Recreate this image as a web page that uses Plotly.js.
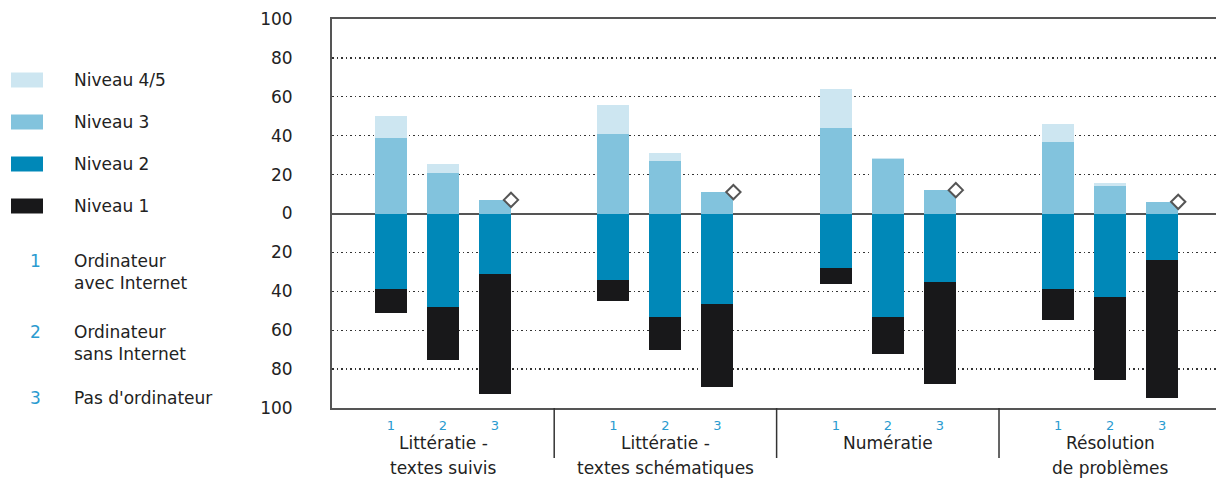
<!DOCTYPE html>
<html>
<head>
<meta charset="utf-8">
<script src="https://cdn.plot.ly/plotly-3.0.1.min.js"></script>
<style>html,body{margin:0;padding:0;background:#fff;}#chart{width:1216px;height:486px;}</style>
</head>
<body>
<div id="chart"></div>
<script>
// ---- Data ----
const groups = ['Littératie -<br>textes suivis', 'Littératie -<br>textes schématiques', 'Numératie', 'Résolution<br>de problèmes'];
const subLabels = ['1', '2', '3'];
const niveau45 = [11, 4.5, 0, 15, 4, 0, 20, 0.5, 0, 9, 1.5, 0];
const niveau3  = [39, 21, 7, 41, 27, 11, 44, 28, 12, 37, 14, 6];
const niveau2  = [39, 48, 31, 34, 53, 46.5, 28, 53, 35, 39, 43, 24];
const niveau1  = [12, 27.5, 62, 11, 17, 42.5, 8.5, 19, 52.5, 16, 42.5, 71];
const legendLevels = ['Niveau 4/5', 'Niveau 3', 'Niveau 2', 'Niveau 1'];
const legendGroups = [['1', 'Ordinateur', 'avec Internet'], ['2', 'Ordinateur', 'sans Internet'], ['3', "Pas d'ordinateur"]];
const yTicks = [-100, -80, -60, -40, -20, 0, 20, 40, 60, 80, 100];

// ---- Styling / geometry ----
const C45 = '#cde6f1', C3 = '#82c3dd', C2 = '#0088b8', C1 = '#18181a';
const levelColors = [C45, C3, C2, C1];
const BLUE = '#2a9bd0', TXT = '#222222', LINE = '#555555';
const FONT = 'DejaVu Sans, Liberation Sans, sans-serif';
const W = 1216, H = 486, L = 332, R = 0, T = 19, B = 78;
const pw = W - L - R, ph = H - T - B;
const K = 4.277;            // group spacing in bar-slot units
const unitPx = 52;          // bar slot width in px
const xMin = -(443 - L) / unitPx;
const xMax = xMin + pw / unitPx;
const px2x = p => (p - L) / pw;
const py2y = p => (H - B - p) / ph;

const n = niveau3.length;
const xs = [];
for (let i = 0; i < n; i++) xs.push(Math.floor(i / 3) * K + (i % 3 - 1));
const barW = 32 / unitPx;

const mk = (y, color, name) => ({
  type: 'bar', x: xs, y: y, width: barW, name: name,
  marker: {color: color, line: {width: 0}}, showlegend: false, hoverinfo: 'skip'
});
const traces = [
  mk(niveau2.map(v => -v), C2, 'Niveau 2'),
  mk(niveau1.map(v => -v), C1, 'Niveau 1'),
  mk(niveau3, C3, 'Niveau 3'),
  mk(niveau45, C45, 'Niveau 4/5')
];
// diamond markers on top-right corner of each group's third bar
const dx = [], dy = [];
for (let i = 0; i < n; i++) if (i % 3 === 2) { dx.push(xs[i] + barW / 2); dy.push(niveau3[i] + niveau45[i]); }
traces.push({
  type: 'scatter', mode: 'markers', x: dx, y: dy, showlegend: false, hoverinfo: 'skip',
  marker: {symbol: 'diamond', size: 11, color: '#ffffff', line: {color: '#555555', width: 2}},
  cliponaxis: false
});

const annotations = [];
const shapes = [];
// group labels
groups.forEach((g, gi) => {
  g.split('<br>').forEach((line, li) => {
    annotations.push({x: gi * K, xref: 'x', y: py2y(443 + li * 25), yref: 'paper', text: line,
      showarrow: false, xanchor: 'center', yanchor: 'middle', font: {family: FONT, size: 17, color: TXT}});
  });
  if (gi < groups.length - 1) {
    shapes.push({type: 'line', xref: 'x', yref: 'paper', x0: gi * K + K / 2, x1: gi * K + K / 2,
      y0: py2y(408), y1: py2y(458), line: {color: '#333', width: 1.5}});
  }
});
// legend: levels
const legCenters = [80, 122, 164, 206];
legendLevels.forEach((lab, i) => {
  const c = legCenters[i];
  shapes.push({type: 'rect', xref: 'paper', yref: 'paper', x0: px2x(11), x1: px2x(43),
    y0: py2y(c + 7.5), y1: py2y(c - 7.5), fillcolor: levelColors[i], line: {width: 0}});
  annotations.push({x: px2x(72), xref: 'paper', y: py2y(c), yref: 'paper', text: lab, showarrow: false,
    xanchor: 'left', yanchor: 'middle', font: {family: FONT, size: 17, color: TXT}});
});
// legend: sub groups
const subCenters = [261, 332, 398];
legendGroups.forEach((lg, i) => {
  const c = subCenters[i];
  annotations.push({x: px2x(35), xref: 'paper', y: py2y(c), yref: 'paper', text: lg[0], showarrow: false,
    xanchor: 'center', yanchor: 'middle', font: {family: FONT, size: 17, color: BLUE}});
  lg.slice(1).forEach((t, j) => {
    annotations.push({x: px2x(72), xref: 'paper', y: py2y(c + j * 22), yref: 'paper', text: t, showarrow: false,
      xanchor: 'left', yanchor: 'middle', font: {family: FONT, size: 17, color: TXT}});
  });
});

const layout = {
  width: W, height: H,
  margin: {l: L, r: R, t: T, b: B},
  paper_bgcolor: '#ffffff', plot_bgcolor: '#ffffff',
  barmode: 'relative', bargap: 0,
  showlegend: false,
  xaxis: {
    range: [xMin, xMax], showgrid: false, zeroline: false,
    showline: true, mirror: true, linecolor: LINE, linewidth: 2,
    tickvals: xs, ticktext: xs.map((_, i) => subLabels[i % 3]), ticks: '',
    tickfont: {family: FONT, size: 13, color: BLUE}, ticklabelstandoff: 4
  },
  yaxis: {
    range: [-100, 100], tickvals: yTicks, ticktext: yTicks.map(v => String(Math.abs(v))),
    showgrid: true, gridcolor: '#333333', gridwidth: 1.3, griddash: '1.5px,3px',
    zeroline: true, zerolinecolor: LINE, zerolinewidth: 2,
    showline: true, linecolor: LINE, linewidth: 2, ticks: '',
    tickfont: {family: FONT, size: 17, color: TXT}, ticklabelstandoff: 34
  },
  annotations: annotations,
  shapes: shapes,
  font: {family: FONT}
};

Plotly.newPlot('chart', traces, layout, {staticPlot: true, displayModeBar: false});
</script>
</body>
</html>
